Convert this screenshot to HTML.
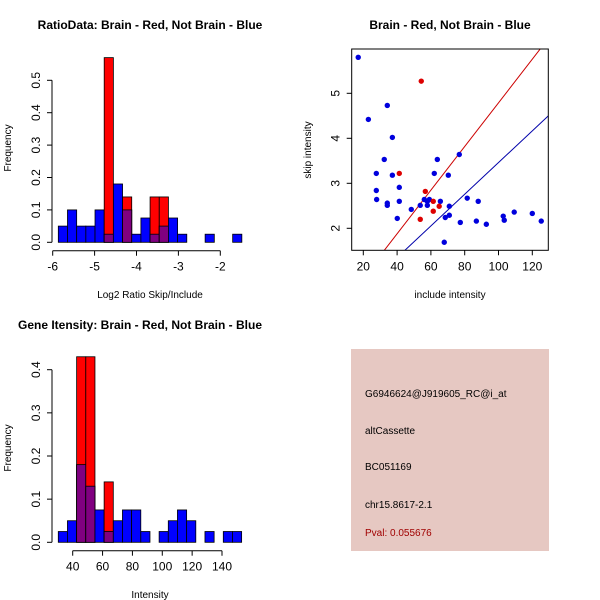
<!DOCTYPE html>
<html><head><meta charset="utf-8">
<style>
html,body{margin:0;padding:0;background:#fff;}
svg{display:block;font-family:"Liberation Sans",sans-serif;}
</style></head>
<body>
<svg id="c" width="600" height="600" viewBox="0 0 600 600" xmlns="http://www.w3.org/2000/svg">
<rect width="600" height="600" fill="#fff"/>
<text x="150" y="29" text-anchor="middle" font-size="12" font-weight="bold">RatioData: Brain - Red, Not Brain - Blue</text>
<text x="450" y="29" text-anchor="middle" font-size="12" font-weight="bold">Brain - Red, Not Brain - Blue</text>
<text x="140" y="329" text-anchor="middle" font-size="12" font-weight="bold">Gene Itensity: Brain - Red, Not Brain - Blue</text>
<text x="150" y="298" text-anchor="middle" font-size="10">Log2 Ratio Skip/Include</text>
<text transform="translate(11,148) rotate(-90)" text-anchor="middle" font-size="10">Frequency</text>
<text x="450" y="298" text-anchor="middle" font-size="10">include intensity</text>
<text transform="translate(311,150) rotate(-90)" text-anchor="middle" font-size="10">skip intensity</text>
<text x="150" y="598" text-anchor="middle" font-size="10">Intensity</text>
<text transform="translate(11,448) rotate(-90)" text-anchor="middle" font-size="10">Frequency</text>
<g>
<rect x="351" y="349" width="198" height="202" fill="#e6c8c2"/>
<text x="365" y="397" font-size="10">G6946624@J919605_RC@i_at</text>
<text x="365" y="434" font-size="10">altCassette</text>
<text x="365" y="470" font-size="10">BC051169</text>
<text x="365" y="508" font-size="10">chr15.8617-2.1</text>
<text x="365" y="536" font-size="10" fill="#a00000">Pval: 0.055676</text>
</g>
<g id="g1"></g><g id="g2"></g><g id="g3"></g>
</svg>
<script>
// Ratio histogram data
const ratioStart = -5.866;
const ratioWidth = 0.219;
const ratioBlue = [0.05,0.1,0.05,0.05,0.1,0.025,0.18,0.1,0.025,0.075,0.025,0.05,0.075,0.025,0,0,0.025,0,0,0.025];
const ratioRed  = [0,0,0,0,0,0.57,0,0.14,0,0,0.14,0.14,0,0,0,0,0,0,0,0];
const ratioXTicks = [-6,-5,-4,-3,-2];
const ratioYTicks = [0,0.1,0.2,0.3,0.4,0.5];
// Intensity histogram data
const intStart = 30.35;
const intWidth = 6.14;
const intBlue = [0.025,0.05,0.18,0.13,0.075,0.025,0.05,0.075,0.075,0.025,0,0.025,0.05,0.075,0.05,0,0.025,0,0.025,0.025];
const intRed  = [0,0,0.43,0.43,0,0.14,0,0,0,0,0,0,0,0,0,0,0,0,0,0];
const intXTicks = [40,60,80,100,120,140];
const intYTicks = [0,0.1,0.2,0.3,0.4];
// Scatter data
const blueX = [17.0,23.0,34.2,37.2,32.4,27.7,37.2,27.7,27.9,34.2,34.2,41.3,41.3,40.1,48.4,53.7,56.1,57.9,59.1,57.9,63.8,62.0,65.6,70.3,76.8,70.9,70.9,68.5,67.9,77.4,81.5,88.0,86.9,92.8,102.8,103.4,109.3,120,125.3];
const blueY = [5.80,4.42,4.73,4.02,3.53,3.22,3.18,2.84,2.64,2.56,2.51,2.91,2.60,2.22,2.42,2.51,2.64,2.60,2.64,2.51,3.53,3.22,2.60,3.18,3.64,2.49,2.29,2.24,1.69,2.13,2.67,2.60,2.16,2.09,2.27,2.18,2.36,2.33,2.16];
const redX = [54.3,41.3,56.7,61.4,64.9,61.4,53.7];
const redY = [5.27,3.22,2.82,2.60,2.49,2.38,2.20];
const redLine = {slope:0.0485, x0:32.2, y0:1.5};
const blueLine = {slope:0.0352, x0:44.3, y0:1.5};
const scXTicks = [20,40,60,80,100,120];
const scYTicks = [2,3,4,5];

const NS="http://www.w3.org/2000/svg";
function mk(parent,tag,attrs){const e=document.createElementNS(NS,tag);for(const k in attrs)e.setAttribute(k,attrs[k]);parent.appendChild(e);return e;}

function hist(g,start,width,blue,red,xt,yt,xs,ys,axY,axX,pre){
  for(let i=0;i<blue.length;i++){
    const x0=xs(start+i*width), x1=xs(start+(i+1)*width);
    if(blue[i]>0){const r=mk(g,'rect',{x:x0,y:ys(blue[i]),width:x1-x0,height:ys(0)-ys(blue[i]),fill:'#0000ff',stroke:'#000','stroke-width':0.8});
      
      }
    if(red[i]>0){const r=mk(g,'rect',{x:x0,y:ys(red[i]),width:x1-x0,height:ys(0)-ys(red[i]),fill:'#ff0000',stroke:'#000','stroke-width':0.8});
      
      }
    const m=Math.min(blue[i],red[i]);
    if(m>0){const r=mk(g,'rect',{x:x0,y:ys(m),width:x1-x0,height:ys(0)-ys(m),fill:'#800080',stroke:'#000','stroke-width':0.8});
      
      }
  }
  mk(g,'line',{x1:xs(xt[0]),x2:xs(xt[xt.length-1]),y1:axY,y2:axY,stroke:'#000'});
  xt.forEach(v=>{mk(g,'line',{x1:xs(v),x2:xs(v),y1:axY,y2:axY+5,stroke:'#000'});
    const t=mk(g,'text',{x:xs(v),y:axY+20,'text-anchor':'middle','font-size':12});t.textContent=v;
    
    });
  mk(g,'line',{x1:axX,x2:axX,y1:ys(yt[0]),y2:ys(yt[yt.length-1]),stroke:'#000'});
  yt.forEach(v=>{mk(g,'line',{x1:axX,x2:axX-5,y1:ys(v),y2:ys(v),stroke:'#000'});
    const t=mk(g,'text',{transform:`translate(${axX-12},${ys(v)}) rotate(-90)`,'text-anchor':'middle','font-size':12});t.textContent=v.toFixed(1);
    
    });
}
const g1=document.getElementById('g1');


hist(g1,ratioStart,ratioWidth,ratioBlue,ratioRed,ratioXTicks,ratioYTicks,
  v=>52.7+(v+6)*41.9, v=>242.3-v*324, 250.7, 52,'ratio');
const g3=document.getElementById('g3');


hist(g3,intStart,intWidth,intBlue,intRed,intXTicks,intYTicks,
  v=>72.7+(v-40)*1.493, v=>542.3-v*431.5, 550.7, 52,'intensity');

// scatter
const g2=document.getElementById('g2');


const sx=v=>363.3+(v-20)*1.69, sy=v=>228.3-(v-2)*45;
const L=351.7,R=548.3,T=49,B=250.3;
mk(g2,'clipPath',{id:'cp'}).appendChild(document.createElementNS(NS,'rect'));
const cr=g2.querySelector('#cp rect');cr.setAttribute('x',L);cr.setAttribute('y',T);cr.setAttribute('width',R-L);cr.setAttribute('height',B-T);
[[redLine,'#cc0000','red-fit-line'],[blueLine,'#0000aa','blue-fit-line']].forEach(([ln,c,n])=>{
  const xa=0, xb=200;
  const l=mk(g2,'line',{x1:sx(xa),y1:sy(ln.y0+(xa-ln.x0)*ln.slope),x2:sx(xb),y2:sy(ln.y0+(xb-ln.x0)*ln.slope),stroke:c,'stroke-width':1,'clip-path':'url(#cp)'});
  
  
});
blueX.forEach((v,i)=>{const p=mk(g2,'circle',{cx:sx(v),cy:sy(blueY[i]),r:2.7,fill:'#0000dd'});
  
  });
redX.forEach((v,i)=>{const p=mk(g2,'circle',{cx:sx(v),cy:sy(redY[i]),r:2.7,fill:'#dd0000'});
  
  });
const fr=mk(g2,'rect',{x:L,y:T,width:R-L,height:B-T,fill:'none',stroke:'#000'});


scXTicks.forEach(v=>{mk(g2,'line',{x1:sx(v),x2:sx(v),y1:B,y2:B+5,stroke:'#000'});
  const t=mk(g2,'text',{x:sx(v),y:B+20,'text-anchor':'middle','font-size':12});t.textContent=v;
  
  });
scYTicks.forEach(v=>{mk(g2,'line',{x1:L,x2:L-5,y1:sy(v),y2:sy(v),stroke:'#000'});
  const t=mk(g2,'text',{transform:`translate(${L-12},${sy(v)}) rotate(-90)`,'text-anchor':'middle','font-size':12});t.textContent=v;
  
  });
</script>
</body></html>
